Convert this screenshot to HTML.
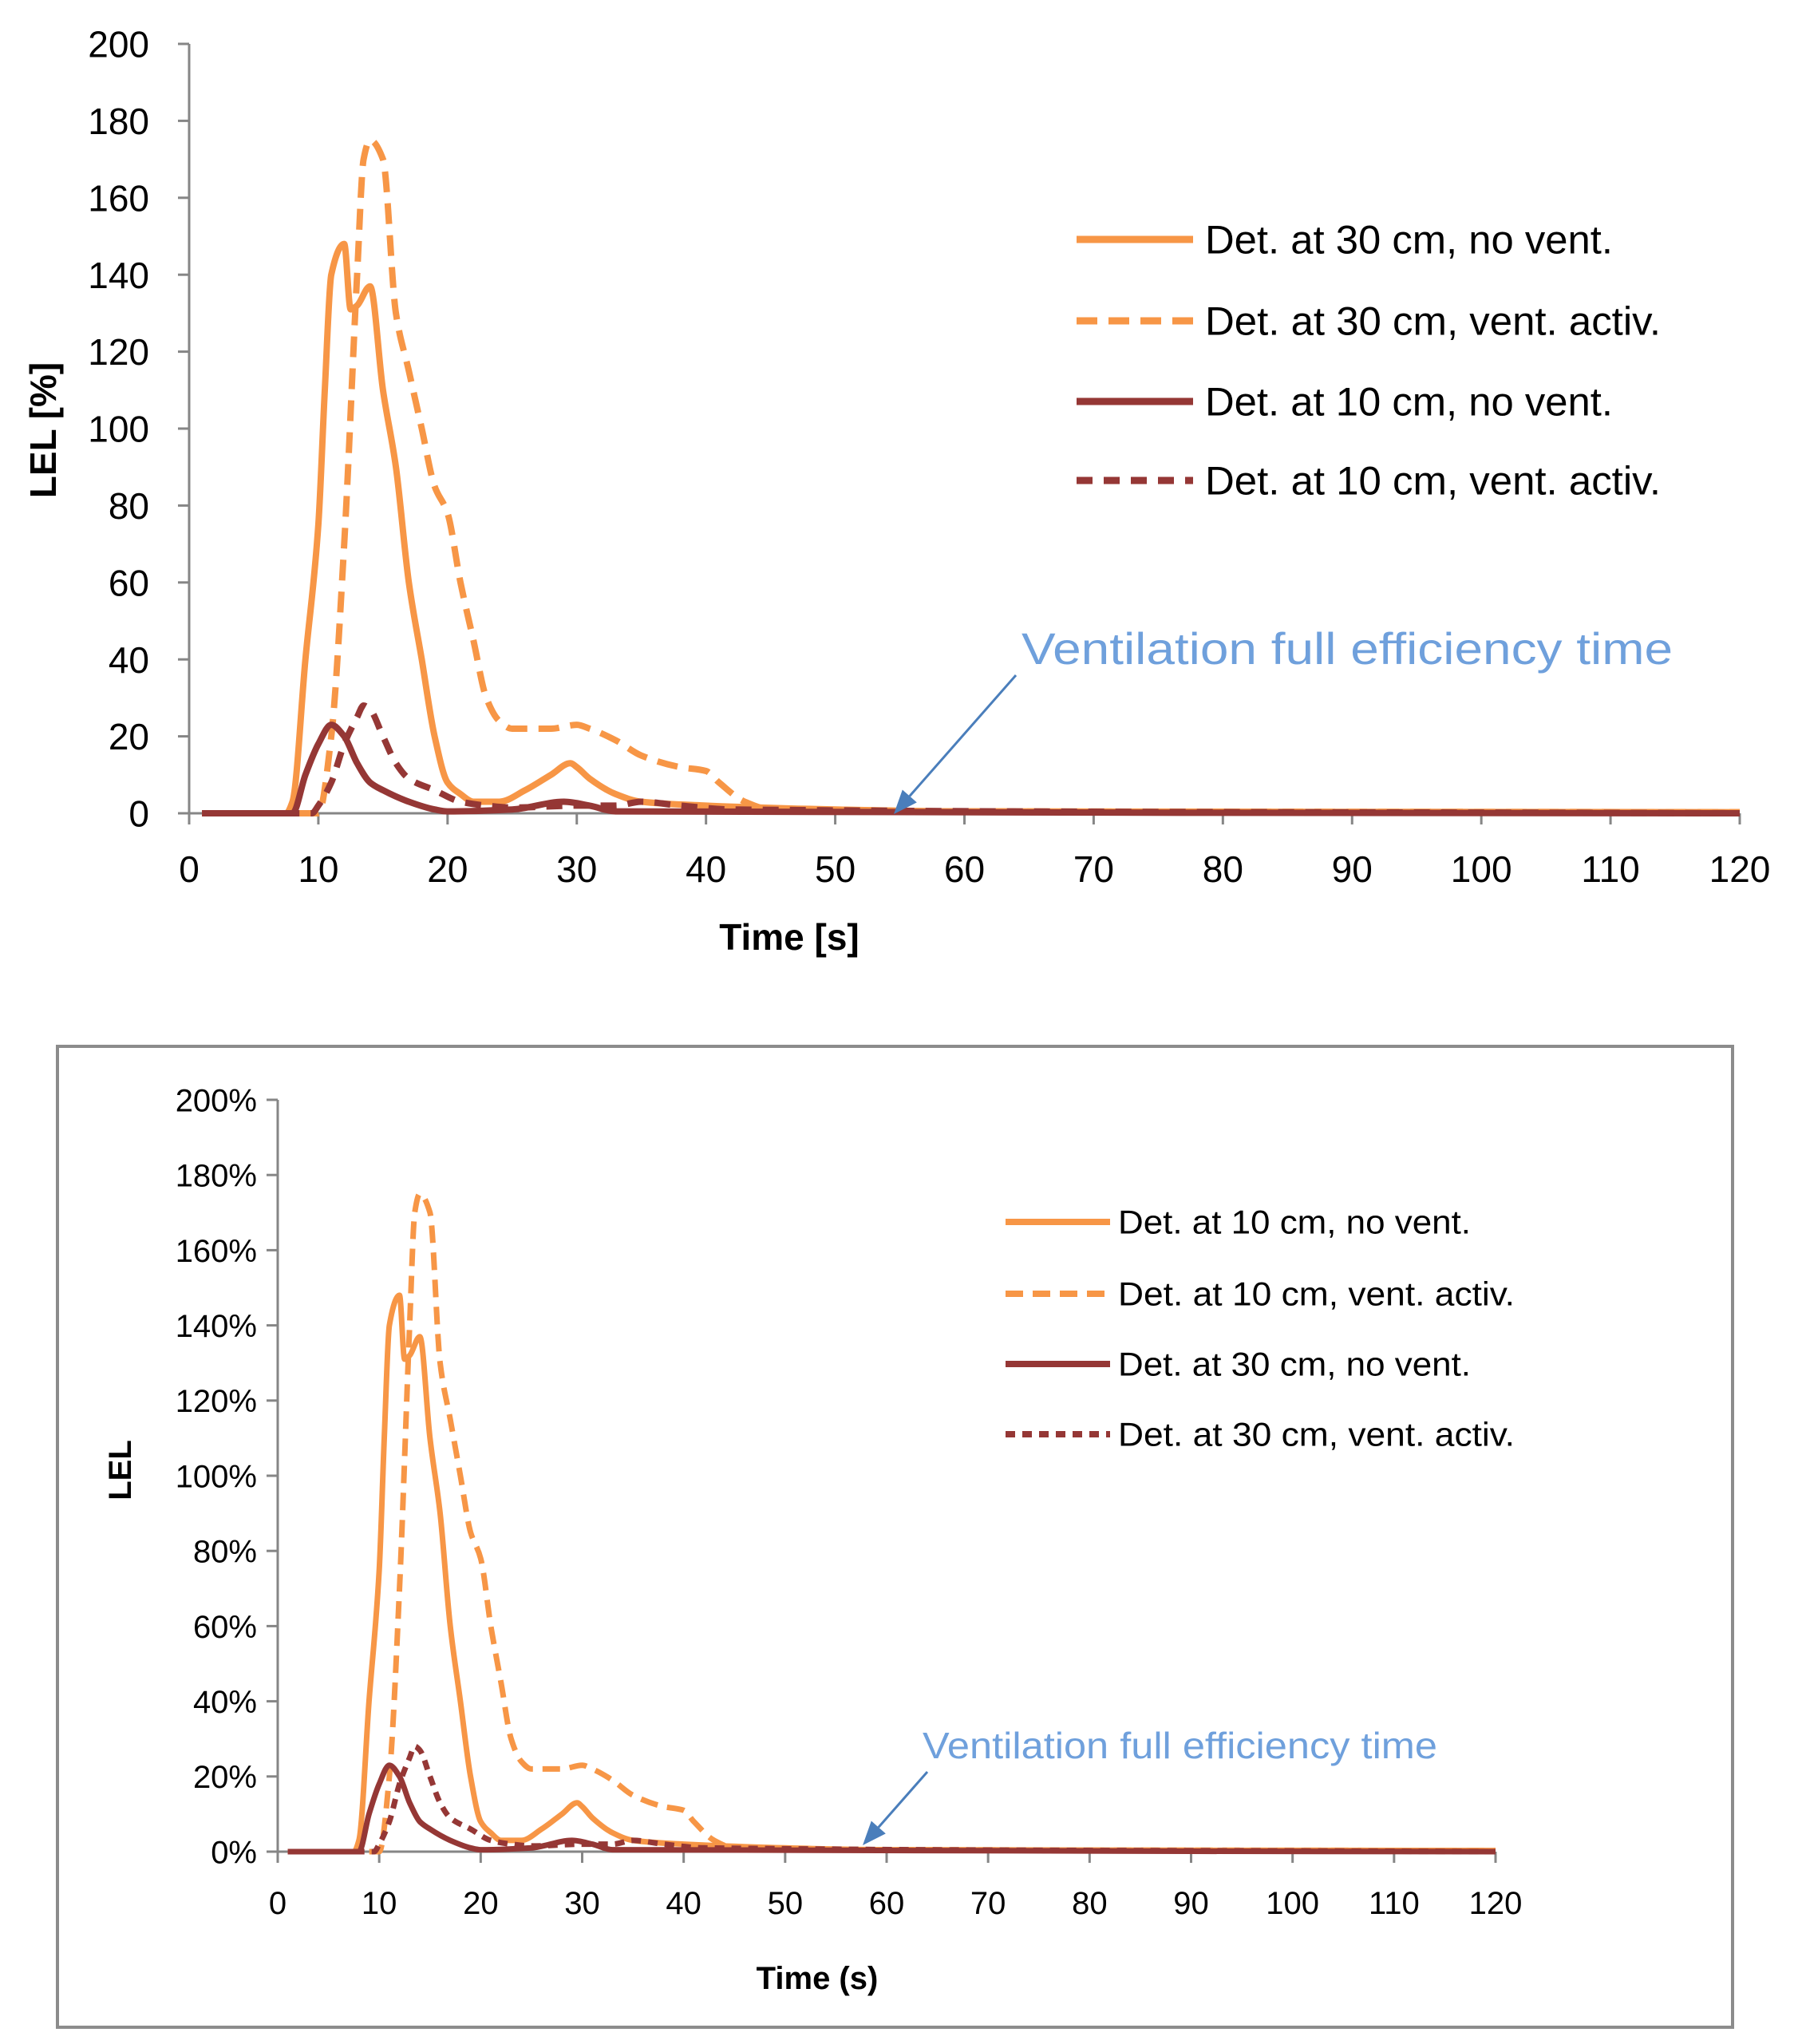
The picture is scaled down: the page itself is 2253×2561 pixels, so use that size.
<!DOCTYPE html>
<html><head><meta charset="utf-8"><style>
html,body{margin:0;padding:0;background:#fff;}
svg{display:block;font-family:"Liberation Sans Narrow","Liberation Sans",sans-serif;}
</style></head><body>
<svg id="svg" width="2253" height="2561" viewBox="0 0 2253 2561" xmlns="http://www.w3.org/2000/svg">
<rect x="0" y="0" width="2253" height="2561" fill="#fff"/>
<rect x="72" y="1311" width="2099" height="1229" fill="none" stroke="#8c8c8c" stroke-width="4"/>
<g id="top"></g>
<g id="bottom"></g>
</svg>
<script>
const xTicks = [0,10,20,30,40,50,60,70,80,90,100,110,120];
const yTicksTop = ["0","20","40","60","80","100","120","140","160","180","200"];
const yTicksBottom = ["0%","20%","40%","60%","80%","100%","120%","140%","160%","180%","200%"];
const yTickValues = [0,20,40,60,80,100,120,140,160,180,200];

const orangeSolidX = [1,7.5,8,9,10,10.5,11,12,12.5,13,14,15,16,17,18,19,20,21,22,24,26,28,29.5,30,31,33,35,40,50,60,120];
const orangeSolidY = [0,0,3,40,75,110,140,148,131,132,137,110,90,60,40,20,8,5,3,3,6,10,13,12,9,5,3,2,1,0.5,0.3];
const orangeDashX = [1,10,11,12,13,13.5,14,15,16,17,18,19,20,21,22,23,24,25,28,30,31,33,35,38,40,41,43,45,60,120];
const orangeDashY = [0,0,20,70,140,170,175,170,130,115,100,85,78,60,45,30,24,22,22,23,22,19,15,12,11,8,3,1,0.5,0.3];
const darkSolidX = [1,8,9,10,11,12,13,14,15,17,19,20,25,29,31,33,120];
const darkSolidY = [0,0,10,18,23,20,13,8,6,3,1,0.5,1,3,2,0.5,0];
const darkDashX = [1,9.5,10,11,12,13,13.5,14,15,16,17,19,21,23,25,30,33,35,38,42,120];
const darkDashY = [0,0,2,8,18,25,28,27,20,13,9,6,3,2,1.5,2,2,3,2,1,0];

const topLegend = ["Det. at 30 cm, no vent.","Det. at 30 cm, vent. activ.","Det. at 10 cm, no vent.","Det. at 10 cm, vent. activ."];
const bottomLegend = ["Det. at 10 cm, no vent.","Det. at 10 cm, vent. activ.","Det. at 30 cm, no vent.","Det. at 30 cm, vent. activ."];

const NS="http://www.w3.org/2000/svg";
function mk(parent,tag,attrs,text){const e=document.createElementNS(NS,tag);for(const k in attrs)e.setAttribute(k,attrs[k]);if(text!==undefined)e.textContent=text;parent.appendChild(e);return e;}
function pathD(xs,ys,sx,sy){
  const n=xs.length, X=xs.map(sx), Y=ys.map(sy);
  const d=[],m=new Array(n);
  for(let i=0;i<n-1;i++)d.push((Y[i+1]-Y[i])/(X[i+1]-X[i]));
  m[0]=d[0];m[n-1]=d[n-2];
  for(let i=1;i<n-1;i++){ if(d[i-1]*d[i]<=0)m[i]=0; else {const w1=2*(X[i+1]-X[i])+(X[i]-X[i-1]),w2=(X[i+1]-X[i])+2*(X[i]-X[i-1]);m[i]=(w1+w2)/(w1/d[i-1]+w2/d[i]);} }
  let s="M"+X[0].toFixed(1)+","+Y[0].toFixed(1);
  for(let i=0;i<n-1;i++){
    const h=(X[i+1]-X[i])/3;
    s+=" C"+(X[i]+h).toFixed(1)+","+(Y[i]+m[i]*h).toFixed(1)+" "+(X[i+1]-h).toFixed(1)+","+(Y[i+1]-m[i+1]*h).toFixed(1)+" "+X[i+1].toFixed(1)+","+Y[i+1].toFixed(1);
  }
  return s;
}
function chart(g,c){
  const sx=v=>c.x0+(c.x1-c.x0)*v/120, sy=v=>c.y0+(c.y1-c.y0)*v/200;
  const axes=mk(g,"g",{});
  
  
  mk(axes,"line",{x1:c.x0,y1:sy(0),x2:c.x0,y2:sy(200),stroke:"#868686","stroke-width":3});
  mk(axes,"line",{x1:c.x0,y1:sy(0),x2:sx(120),y2:sy(0),stroke:"#868686","stroke-width":3});
  yTickValues.forEach((v,i)=>{
    mk(axes,"line",{x1:c.x0-14,y1:sy(v),x2:c.x0,y2:sy(v),stroke:"#868686","stroke-width":3});
    const t=mk(axes,"text",{x:c.x0-c.ylabOff,y:sy(v)+c.tf*0.36,"font-size":c.tf,"text-anchor":"end",fill:"#000"},c.yLabels[i]);
    
    
  });
  xTicks.forEach(v=>{
    mk(axes,"line",{x1:sx(v),y1:sy(0),x2:sx(v),y2:sy(0)+14,stroke:"#868686","stroke-width":3});
    const t=mk(axes,"text",{x:sx(v),y:sy(0)+c.xlabOff,"font-size":c.tf,"text-anchor":"middle",fill:"#000"},String(v));
    
    
  });
  const xt=mk(g,"text",{x:c.xtX,y:c.xtY,"font-size":c.titleF,"font-weight":"bold","text-anchor":"middle","font-family":"Liberation Sans, sans-serif"},c.xTitle);
  
  
  const yt=mk(g,"text",{x:0,y:0,"font-size":c.titleF,"font-weight":"bold","text-anchor":"middle","font-family":"Liberation Sans, sans-serif",transform:"translate("+c.ytX+","+c.ytY+") rotate(-90)"},c.yTitle);
  
  
  const series=[
    [orangeSolidX,orangeSolidY,"#f79646",null],
    [orangeDashX,orangeDashY,"#f79646",c.dashO],
    [darkSolidX,darkSolidY,"#953735",null],
    [darkDashX,darkDashY,"#953735",c.dashD]];
  const names=["series-orange-solid","series-orange-dashed","series-dark-solid","series-dark-dashed"];
  const order=[1,0,3,2];
  order.forEach(i=>{
    const s=series[i];
    const p=mk(g,"path",{d:pathD(s[0],s[1],sx,sy),fill:"none",stroke:s[2],"stroke-width":c.lw,"stroke-linejoin":"round"});
    if(s[3])p.setAttribute("stroke-dasharray",s[3]);
    
    
  });
  c.legend.forEach((lab,i)=>{
    const s=series[i];const y=c.legY[i];
    const lg=mk(g,"g",{});
    
    
    const l=mk(lg,"line",{x1:c.legX0,y1:y,x2:c.legX1,y2:y,stroke:s[2],"stroke-width":c.lw+1});
    if(s[3])l.setAttribute("stroke-dasharray",s[3]);
    mk(lg,"text",{x:c.legTX,y:y+c.legF*0.35,"font-size":c.legF,fill:"#000",textLength:(i%2?c.legW2:c.legW1),lengthAdjust:"spacingAndGlyphs"},lab);
  });
  const an=mk(g,"text",{x:c.anX,y:c.anY,"font-size":c.anF,fill:"#6fa0dc",textLength:c.anW,lengthAdjust:"spacingAndGlyphs"},"Ventilation full efficiency time");
  
  
  const ar=mk(g,"g",{});
  
  
  const [ax,ay,bx,by]=c.arrow;
  const ang=Math.atan2(by-ay,bx-ax),L=30,W=12;
  const hx=bx-L*Math.cos(ang),hy=by-L*Math.sin(ang);
  mk(ar,"line",{x1:ax,y1:ay,x2:hx,y2:hy,stroke:"#4a7ebb","stroke-width":3});
  mk(ar,"polygon",{points:bx+","+by+" "+(hx+W*Math.sin(ang))+","+(hy-W*Math.cos(ang))+" "+(hx-W*Math.sin(ang))+","+(hy+W*Math.cos(ang)),fill:"#4a7ebb"});
}
chart(document.getElementById("top"),{pre:"top",x0:237,x1:2180,y0:1019,y1:55,tf:46,ylabOff:50,xlabOff:86,
  yLabels:yTicksTop,xTitle:"Time [s]",yTitle:"LEL [%]",titleF:46,xtX:989,xtY:1190,ytX:70,ytY:539,
  lw:8,dashO:"26,14",dashD:"20,14",legend:topLegend,legY:[300,402,503,602],legX0:1349,legX1:1495,legTX:1510,legF:50,legW1:511,legW2:571,
  anX:1280,anY:832,anF:56,anW:816,arrow:[1273,846,1120,1020]});
chart(document.getElementById("bottom"),{pre:"bottom",x0:348,x1:1874,y0:2320,y1:1378,tf:40,ylabOff:26,xlabOff:78,
  yLabels:yTicksBottom,xTitle:"Time (s)",yTitle:"LEL",titleF:40,xtX:1024,xtY:2492,ytX:164,ytY:1842,
  lw:7,dashO:"22,12",dashD:"12,9",legend:bottomLegend,legY:[1531,1621,1709,1797],legX0:1260,legX1:1391,legTX:1401,legF:42,legW1:442,legW2:497,
  anX:1156,anY:2203,anF:46,anW:645,arrow:[1162,2220,1081,2312]});
</script>
</body></html>
